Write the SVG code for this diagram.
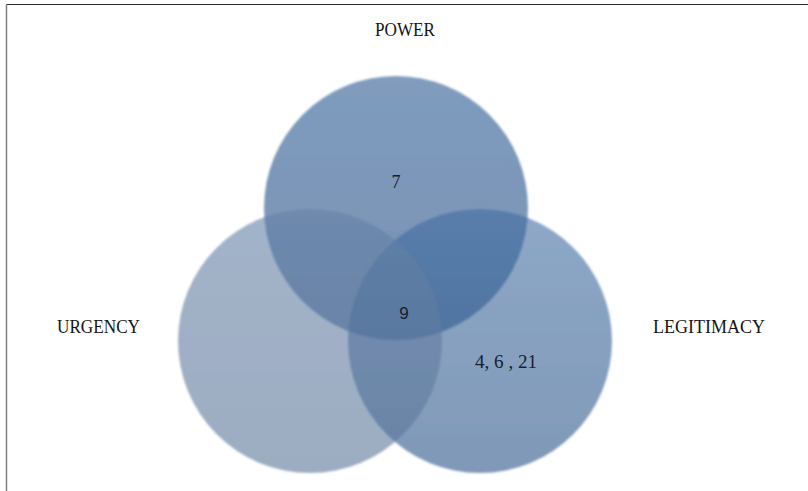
<svg xmlns="http://www.w3.org/2000/svg" width="808" height="491" viewBox="0 0 808 491">
  <style>
    .lbl { font-family: "Liberation Serif", "Times New Roman", serif; font-size: 18px; fill: #141414; }
    .num { font-family: "Liberation Serif", "Times New Roman", serif; font-size: 18px; fill: #16202e; }
    .sans { font-family: "Liberation Sans", Arial, sans-serif; font-size: 17px; fill: #16202e; }
    .set { fill-opacity: 0.6; filter: url(#soft); }
  </style>
  <defs>
    <filter id="soft" x="-5%" y="-5%" width="110%" height="110%">
      <feGaussianBlur stdDeviation="0.9"/>
    </filter>
    <linearGradient id="gP" x1="0" y1="0" x2="0" y2="1">
      <stop offset="0" stop-color="#2c5a92"/>
      <stop offset="1" stop-color="#1c4a82"/>
    </linearGradient>
    <linearGradient id="gL" x1="0" y1="0" x2="0" y2="1">
      <stop offset="0" stop-color="#426ea2"/>
      <stop offset="1" stop-color="#2c5488"/>
    </linearGradient>
    <linearGradient id="gU" x1="0" y1="0" x2="0" y2="1">
      <stop offset="0" stop-color="#6682a6"/>
      <stop offset="1" stop-color="#5a7698"/>
    </linearGradient>
  </defs>

  <rect width="808" height="491" fill="#ffffff"/>
  <line x1="6" y1="4.5" x2="808" y2="4.5" stroke="#2a2a2a" stroke-width="1"/>
  <line x1="6.5" y1="4" x2="6.5" y2="491" stroke="#7a7a7a" stroke-width="1.4"/>

  <g id="power">
    <circle class="set" cx="396" cy="208" r="132" fill="url(#gP)"/>
  </g>
  <g id="legitimacy">
    <circle class="set" cx="480" cy="341" r="132" fill="url(#gL)"/>
  </g>
  <g id="urgency">
    <circle class="set" cx="310" cy="341" r="132" fill="url(#gU)"/>
  </g>

  <g id="connectors"></g>

  <g id="label-power">
    <text class="lbl" x="405" y="36" text-anchor="middle" textLength="60" lengthAdjust="spacingAndGlyphs">POWER</text>
  </g>
  <g id="label-urgency">
    <text class="lbl" x="57" y="333" textLength="83" lengthAdjust="spacingAndGlyphs">URGENCY</text>
  </g>
  <g id="label-legitimacy">
    <text class="lbl" x="653" y="333" textLength="112" lengthAdjust="spacingAndGlyphs">LEGITIMACY</text>
  </g>
  <g id="count-power">
    <text class="num" x="396" y="188" text-anchor="middle">7</text>
  </g>
  <g id="count-center">
    <text class="sans" x="404" y="319" text-anchor="middle">9</text>
  </g>
  <g id="count-legitimacy">
    <text class="num" x="475" y="368" textLength="62" lengthAdjust="spacingAndGlyphs">4, 6 , 21</text>
  </g>
</svg>
